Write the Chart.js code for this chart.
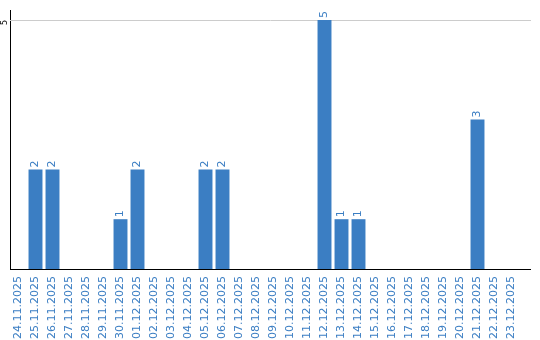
<!DOCTYPE html>
<html>
<head>
<meta charset="utf-8">
<script src="https://cdn.jsdelivr.net/npm/chart.js@4"></script>
<style>
  html, body { margin: 0; padding: 0; background: #fff; }
  #wrap { width: 540px; height: 340px; }
</style>
</head>
<body>
<div id="wrap"><canvas id="chart"></canvas></div>
<script>
// Chart data
const days = [
  "24.11.2025", "25.11.2025", "26.11.2025", "27.11.2025", "28.11.2025", "29.11.2025",
  "30.11.2025", "01.12.2025", "02.12.2025", "03.12.2025", "04.12.2025", "05.12.2025",
  "06.12.2025", "07.12.2025", "08.12.2025", "09.12.2025", "10.12.2025", "11.12.2025",
  "12.12.2025", "13.12.2025", "14.12.2025", "15.12.2025", "16.12.2025", "17.12.2025",
  "18.12.2025", "19.12.2025", "20.12.2025", "21.12.2025", "22.12.2025", "23.12.2025"
];
const counts = [0, 2, 2, 0, 0, 0, 1, 2, 0, 0, 0, 2, 2, 0, 0, 0, 0, 0, 5, 1, 1, 0, 0, 0, 0, 0, 0, 3, 0, 0];
const yTicks = [0, 5];

const blue = "#3b7ec3";
const sans = "'DejaVu Sans', sans-serif";

// Value labels above the bars, rotated
const valueLabels = {
  id: "valueLabels",
  afterDatasetsDraw(chart) {
    const ctx = chart.ctx;
    const meta = chart.getDatasetMeta(0);
    ctx.save();
    ctx.fillStyle = blue;
    ctx.font = "11px " + sans;
    ctx.textAlign = "left";
    ctx.textBaseline = "middle";
    meta.data.forEach((bar, i) => {
      if (!counts[i]) return;
      ctx.save();
      ctx.translate(bar.x, bar.y - 2);
      ctx.rotate(-Math.PI / 2);
      ctx.fillText(String(counts[i]), 0, 0);
      ctx.restore();
    });
    ctx.restore();
  }
};

// Top gridline (under the bars), running a bit past the last category
const topGrid = {
  id: "topGrid",
  beforeDatasetsDraw(chart) {
    const { ctx, chartArea } = chart;
    const y = Math.round(chart.scales.y.getPixelForValue(yTicks[1])) + 0.5;
    ctx.save();
    ctx.lineWidth = 1;
    ctx.strokeStyle = "#cccccc";
    ctx.beginPath();
    ctx.moveTo(chartArea.left, y);
    ctx.lineTo(chartArea.right + 11, y);
    ctx.stroke();
    ctx.restore();
  }
};

// The bottom axis line runs a bit past the last category too
const axisLine = {
  id: "axisLine",
  afterDraw(chart) {
    const { ctx, chartArea } = chart;
    ctx.save();
    ctx.lineWidth = 1;
    ctx.strokeStyle = "#000";
    ctx.beginPath();
    ctx.moveTo(chartArea.left, chartArea.bottom + 0.5);
    ctx.lineTo(chartArea.right + 11, chartArea.bottom + 0.5);
    ctx.stroke();
    ctx.restore();
  }
};

new Chart(document.getElementById("chart"), {
  type: "bar",
  data: {
    labels: days,
    datasets: [{
      data: counts,
      backgroundColor: blue,
      borderWidth: 0,
      categoryPercentage: 1,
      barPercentage: 0.82
    }]
  },
  options: {
    responsive: true,
    maintainAspectRatio: false,
    animation: false,
    layout: { padding: { top: 10, right: 20, left: 0, bottom: 0 } },
    plugins: {
      legend: { display: false },
      tooltip: { enabled: false }
    },
    scales: {
      x: {
        grid: { display: false, drawTicks: false },
        border: { display: true, color: "#000", width: 1 },
        ticks: {
          color: blue,
          font: { family: sans, size: 11 },
          minRotation: 90,
          maxRotation: 90,
          autoSkip: false,
          padding: 7
        },
        afterFit(scale) { scale.height = 71; }
      },
      y: {
        min: 0,
        max: 5.2,
        grid: { display: false, drawTicks: false },
        border: { display: true, color: "#000", width: 1 },
        ticks: {
          color: "#000",
          font: { family: sans, size: 8 },
          minRotation: 90,
          crossAlign: "near",
          padding: 5,
          callback: (v) => v === 0 ? "" : v
        },
        afterBuildTicks(scale) { scale.ticks = yTicks.map(v => ({ value: v })); },
        afterFit(scale) { scale.width = 10; }
      }
    }
  },
  plugins: [topGrid, valueLabels, axisLine]
});
</script>
</body>
</html>
